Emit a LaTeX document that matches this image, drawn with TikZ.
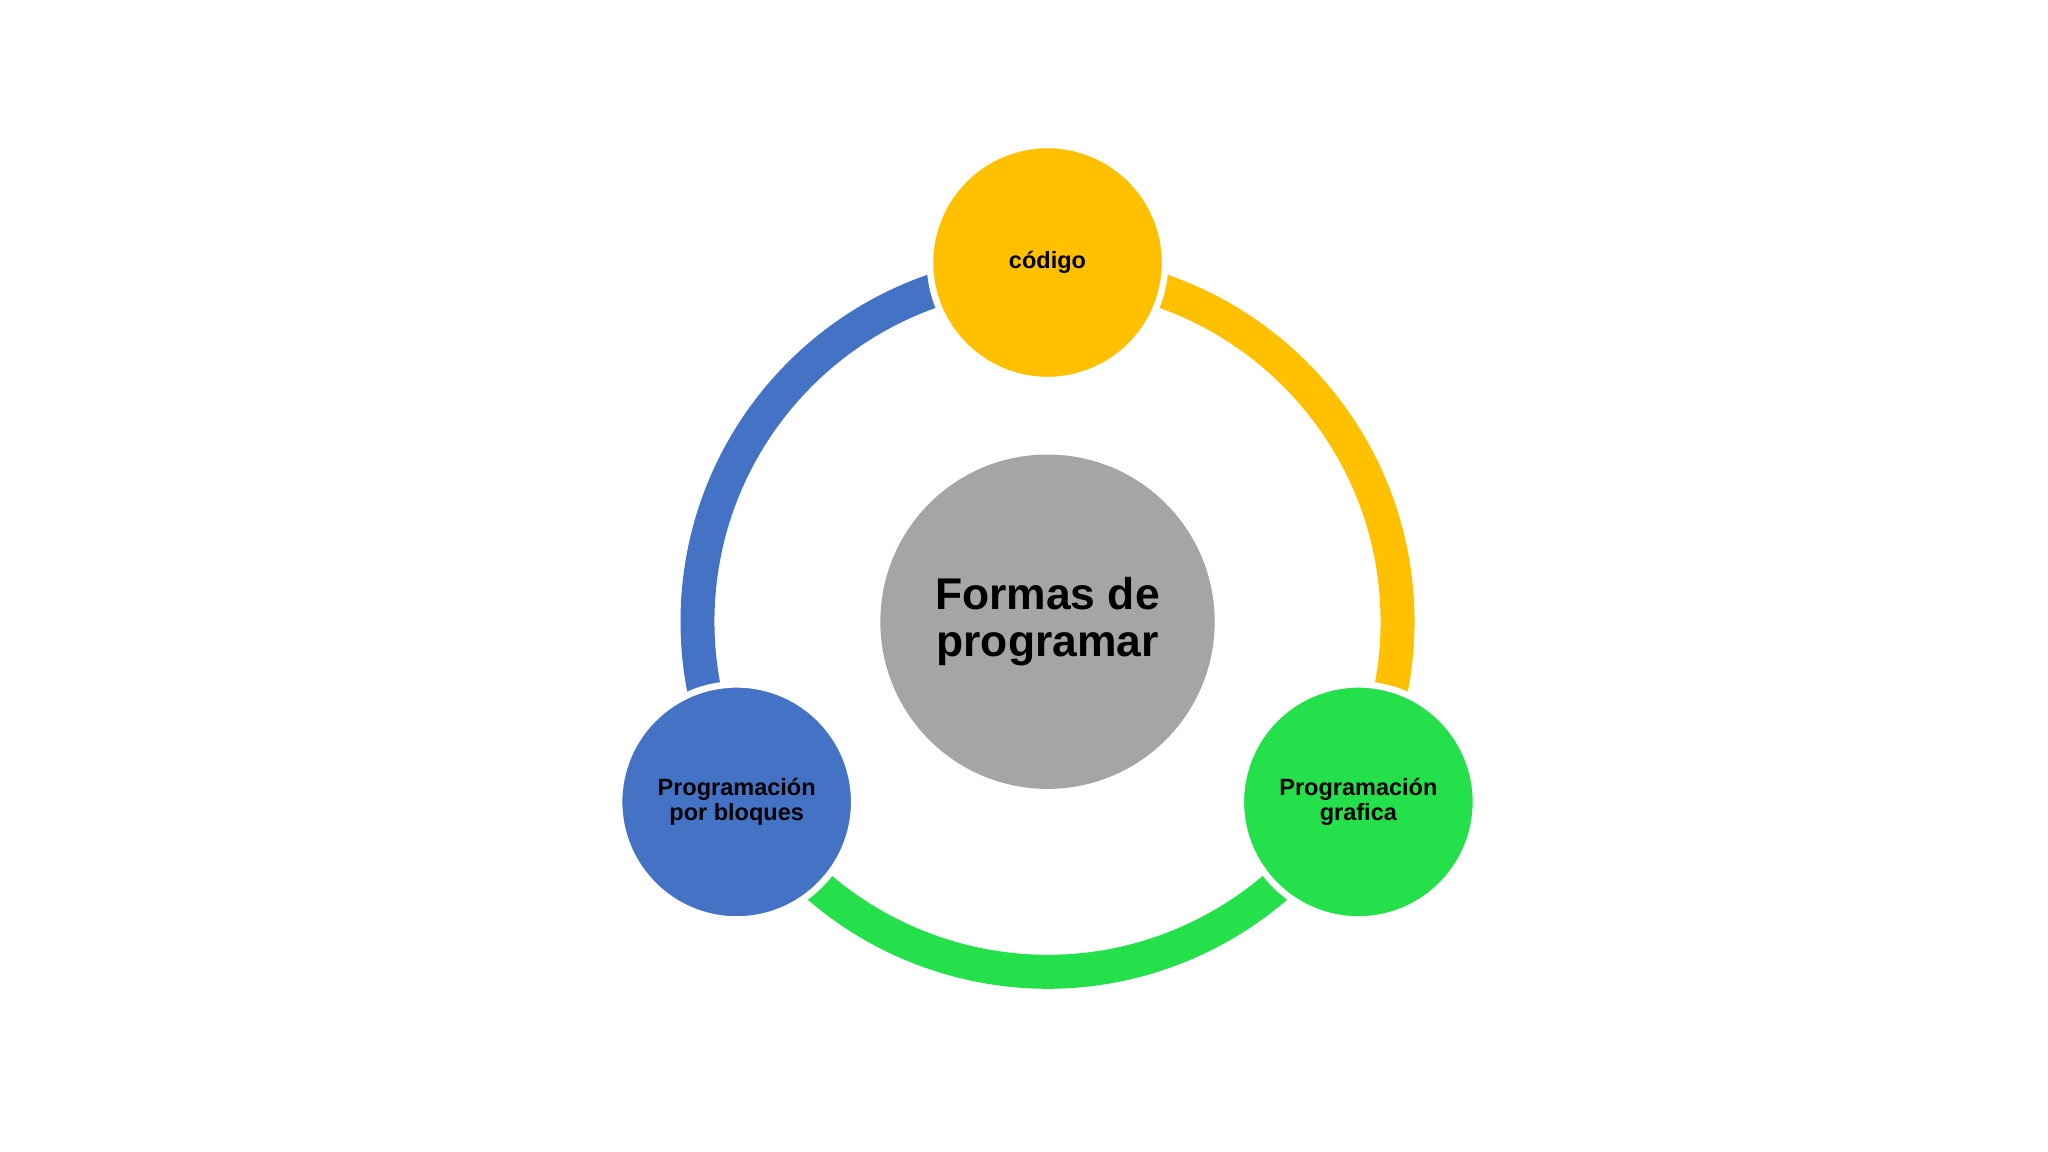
\documentclass[tikz,border=0pt]{standalone}
\usepackage{fontspec}
\setmainfont{Liberation Sans}
\definecolor{cy}{HTML}{FFC000}
\definecolor{cb}{HTML}{4472C4}
\definecolor{cg}{HTML}{23E04B}
\definecolor{cgr}{HTML}{A5A4A6}
\begin{document}
\begin{tikzpicture}[x=0.5pt,y=0.5pt,
  sat/.style={circle,draw=white,line width=2.5pt,minimum size=90pt,inner sep=0pt,align=center,font=\bfseries\fontsize{9}{9.5}\selectfont},
  ring/.style={line width=13pt}]
\useasboundingbox (0,0) rectangle (1568,882);
\coordinate (c) at (802,406);
\draw[ring,cb] (c) ++(90:134pt) arc[start angle=90,end angle=210,radius=134pt];
\draw[ring,cy] (c) ++(90:134pt) arc[start angle=90,end angle=-30,radius=134pt];
\draw[ring,cg] (c) ++(210:134pt) arc[start angle=210,end angle=330,radius=134pt];
\node[circle,fill=cgr,minimum size=128pt,inner sep=0pt,align=center,font=\bfseries\fontsize{17}{18}\selectfont] (m) at (c) {Formas de\\programar};
\node[sat,fill=cy] (t) at (802,681) {código};
\node[sat,fill=cb] (l) at (564,268) {Programación\\por bloques};
\node[sat,fill=cg] (r) at (1040,268) {Programación\\grafica};
\end{tikzpicture}
\end{document}
